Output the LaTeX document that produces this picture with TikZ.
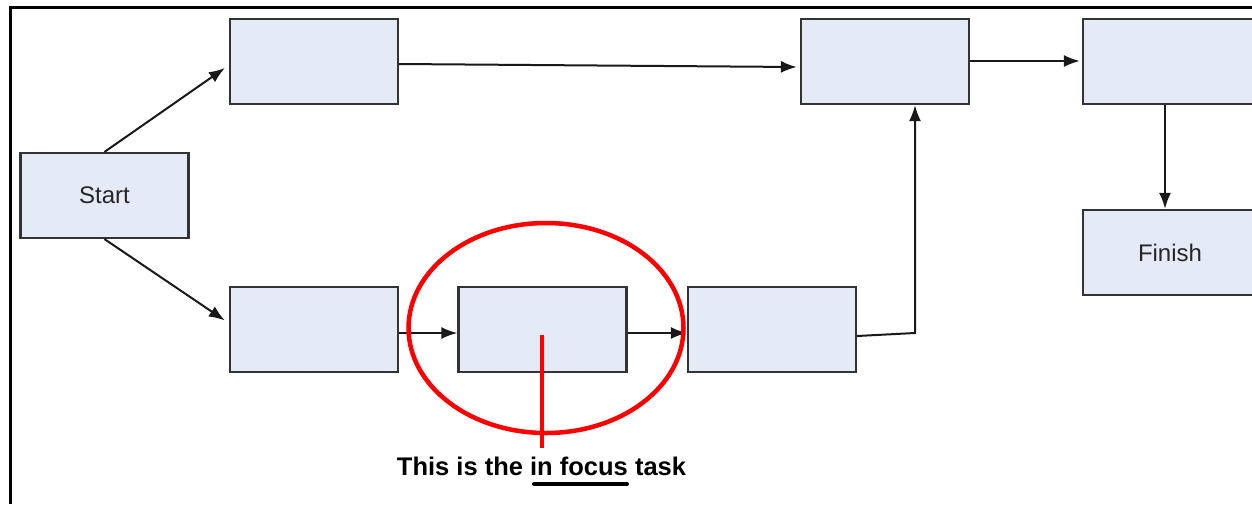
\documentclass[tikz,border=0pt]{standalone}
\usepackage{fontspec}
\setmainfont{Liberation Sans}
\usetikzlibrary{arrows.meta}
\definecolor{boxfill}{HTML}{E5EBF6}
\definecolor{boxedge}{HTML}{333333}
\definecolor{mark}{HTML}{FF0000}
\tikzset{
  task/.style={draw=boxedge, fill=boxfill, line width=2.2pt, minimum width=168pt,
               minimum height=85pt, inner sep=0pt, font=\fontsize{24}{28}\selectfont,
               text=black!85},
  flow/.style={draw=black!90, line width=2pt,
               -{Latex[length=16pt,width=12pt]}},
  frame/.style={draw=black, line width=3pt},
  focusmark/.style={draw=mark, line width=4.5pt}
}
\begin{document}
\begin{tikzpicture}[x=1pt,y=-1pt]
  \useasboundingbox (0,0) rectangle (1252,504);
  \clip (0,0) rectangle (1252,504);

  % outer frame (only top and left edges show)
  \draw[frame] (10,7) -- (1252,7);
  \draw[frame] (10,5.5) -- (10,504);

  % tasks
  \node[task] (start)  at (104.5,195.5) {Start};
  \node[task] (a1)     at (314,61.5) {};
  \node[task] (b1)     at (314,329.5) {};
  \node[task] (focus)  at (542.5,329.5) {};
  \node[task] (b3)     at (772,329.5) {};
  \node[task] (t2)     at (885,61.5) {};
  \node[task, minimum width=174pt] (t3)     at (1170,61.5) {};
  \node[task, minimum width=174pt] (finish) at (1170,252.5) {Finish};

  % dependencies
  \draw[flow] (start.north) -- ([xshift=-4pt,yshift=-6.5pt]a1.west);
  \draw[flow] (start.south) -- ([xshift=-4pt,yshift=9pt]b1.west);
  \draw[flow] ([yshift=-2.5pt]a1.east) -- ([xshift=-3pt,yshift=-5.5pt]t2.west);
  \draw[flow] ([yshift=-3.5pt]b1.east) -- ([yshift=-3.5pt]focus.west);
  \draw[flow] ([yshift=-3.5pt]focus.east) -- ([yshift=-3.5pt]b3.west);
  \coordinate (bend) at (915,333);
  \draw[flow] ([yshift=-6.5pt]b3.east) -- (bend) -- ([xshift=30pt]t2.south);
  \draw[flow] ([yshift=0.5pt]t2.east) -- ([xshift=-2pt,yshift=0.5pt]t3.west);
  \draw[flow] ([xshift=-5pt]t3.south) -- ([xshift=-5pt]finish.north);

  % highlight of the task in focus
  \draw[focusmark] (546,328) ellipse [x radius=137.5, y radius=105];
  \coordinate (pin) at (542,335);
  \node[font=\bfseries\fontsize{25.5}{30}\selectfont, anchor=base, inner sep=0pt]
       (note) at (541.5,475) {This is the in focus task};
  \draw[focusmark] (pin) -- (pin |- 0,448);
  \draw[line width=4pt, line cap=round] (534,484) -- (627,484);
\end{tikzpicture}
\end{document}
